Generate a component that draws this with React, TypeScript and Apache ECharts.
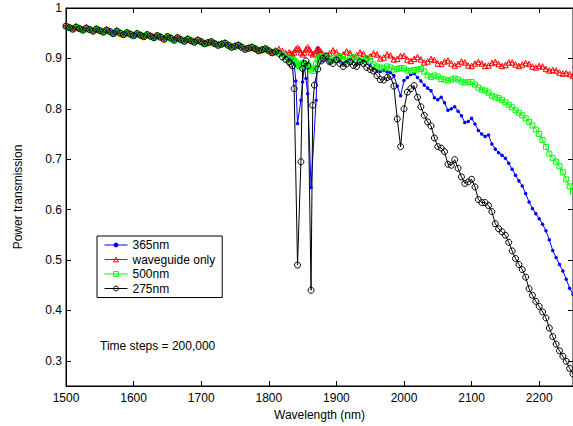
import { useEffect, useRef } from "react";
import * as echarts from "echarts";

// Wavelength sampling (nm) — denser around the resonance dips
const WAVELENGTH_NM = [
  1500, 1505, 1510, 1515, 1520, 1525, 1530, 1535, 1540, 1545,
  1550, 1555, 1560, 1565, 1570, 1575, 1580, 1585, 1590, 1595,
  1600, 1605, 1610, 1615, 1620, 1625, 1630, 1635, 1640, 1645,
  1650, 1655, 1660, 1665, 1670, 1675, 1680, 1685, 1690, 1695,
  1700, 1705, 1710, 1715, 1720, 1725, 1730, 1735, 1740, 1745,
  1750, 1755, 1760, 1765, 1770, 1775, 1780, 1785, 1790, 1795,
  1800, 1805, 1810, 1815, 1820, 1825, 1830,
  1832.5, 1835, 1837.5, 1840, 1842.5, 1845, 1847.5, 1850, 1852.5, 1855,
  1857.5, 1860, 1862.5, 1865, 1867.5, 1870, 1872.5, 1875, 1877.5,
  1880, 1885, 1890, 1895, 1900, 1905, 1910, 1915, 1920, 1925,
  1930, 1935, 1940, 1945, 1950, 1955, 1960, 1965, 1970, 1975,
  1980, 1985, 1990, 1995, 2000, 2005, 2010, 2015, 2020, 2025,
  2030, 2035, 2040, 2045, 2050, 2055, 2060, 2065, 2070, 2075,
  2080, 2085, 2090, 2095, 2100, 2105, 2110, 2115, 2120, 2125,
  2130, 2135, 2140, 2145, 2150, 2155, 2160, 2165, 2170, 2175,
  2180, 2185, 2190, 2195, 2200, 2205, 2210, 2215, 2220, 2225,
  2230, 2235, 2240, 2245, 2250,
];

const T365NM = [
  .964, .961, .958, .962, .959, .956, .960, .957, .954, .958,
  .955, .952, .956, .953, .949, .954, .950, .947, .951, .948,
  .945, .949, .946, .943, .947, .944, .941, .945, .942, .938,
  .943, .940, .936, .941, .937, .934, .938, .935, .932, .936,
  .933, .929, .931, .933, .929, .926, .928, .930, .926, .922,
  .924, .926, .922, .918, .920, .922, .919, .915, .917, .919,
  .915, .911, .913, .913, .908, .903, .898,
  .900, .901, .890, .855, .771, null, .817, .853, .885, .860,
  .830, null, .644, null, null, .817, .921, .905, .895,
  .900, .897, .892, .897, .900, .895, .890, .894, .898, .895,
  .889, .892, .896, .893, .886, .880, .876, .874, .876, .873,
  .872, .866, .845, .826, .856, .862, .868, .870, .862, .855,
  .847, .841, .836, .822, .818, .823, .812, .797, .800, .804,
  .795, .786, .773, .775, .781, .770, .757, .750, .745, .748,
  .730, .720, .713, .708, .702, .692, .680, .668, .657, .647,
  .632, .615, .602, .592, .582, .571, .558, .540, .519, .505,
  .491, .478, .462, .444, .432,
];

const T_WAVEGUIDE = [
  .966, .963, .960, .964, .961, .958, .962, .959, .956, .960,
  .957, .954, .958, .955, .951, .956, .952, .949, .953, .950,
  .947, .951, .948, .945, .949, .946, .943, .947, .944, .940,
  .945, .942, .938, .943, .939, .936, .940, .937, .934, .938,
  .935, .931, .933, .935, .931, .928, .930, .932, .928, .924,
  .926, .928, .924, .920, .922, .924, .921, .917, .919, .921,
  .917, .913, .916, .919, .915, .911, .912,
  .910, .908, .912, .918, .921, .918, .912, .908, .912, .918,
  .922, .918, .912, .908, .910, .915, .919, .917, .912,
  .908, .905, .910, .916, .912, .905, .908, .914, .911, .903,
  .906, .912, .909, .901, .904, .910, .908, .900, .902, .908,
  .906, .898, .899, .905, .905, .898, .895, .899, .903, .898,
  .892, .894, .899, .897, .890, .889, .894, .896, .890, .886,
  .889, .894, .892, .886, .885, .890, .893, .890, .885, .886,
  .891, .893, .889, .885, .887, .892, .892, .888, .885, .888,
  .891, .889, .884, .882, .885, .884, .879, .876, .877, .876,
  .872, .870, .871, .869, .866,
];

const T500NM = [
  .964, .961, .958, .962, .959, .956, .960, .957, .954, .958,
  .955, .952, .956, .953, .949, .954, .950, .947, .951, .948,
  .945, .949, .946, .943, .947, .944, .941, .945, .942, .938,
  .943, .940, .936, .941, .937, .934, .938, .935, .932, .936,
  .933, .929, .931, .933, .929, .926, .928, .930, .926, .922,
  .924, .926, .922, .918, .920, .922, .919, .915, .917, .919,
  .915, .911, .913, .913, .908, .902, .898,
  .897, .898, .895, .892, .888, .885, .887, .890, .888, .886,
  .888, .884, .878, .875, .880, .890, .898, .902, .904,
  .905, .902, .898, .896, .900, .903, .899, .895, .898, .902,
  .898, .894, .897, .900, .895, .888, .884, .882, .880, .884,
  .882, .878, .879, .881, .880, .876, .875, .877, .878, .879,
  .874, .866, .863, .866, .864, .859, .858, .856, .858, .860,
  .858, .854, .852, .853, .853, .848, .842, .838, .836, .832,
  .826, .823, .821, .818, .813, .808, .803, .797, .792, .787,
  .781, .774, .767, .759, .750, .738, .724, .711, .702, .695,
  .686, .674, .660, .646, .636,
];

const T275NM = [
  .964, .961, .958, .962, .959, .956, .960, .957, .954, .958,
  .955, .952, .956, .953, .949, .954, .950, .947, .951, .948,
  .945, .949, .946, .943, .947, .944, .941, .945, .942, .938,
  .943, .940, .936, .941, .937, .934, .938, .935, .932, .936,
  .933, .929, .931, .933, .929, .926, .928, .930, .926, .922,
  .924, .926, .922, .918, .920, .922, .919, .915, .917, .919,
  .915, .911, .913, .910, .903, .898, .893,
  .889, .885, .840, null, .490, null, .695, .880, .890, .895,
  .885, null, .440, .807, .847, null, .879, null, .895,
  .900, .905, .893, .890, .897, .890, .884, .889, .893, .886,
  .884, .893, .890, .882, .878, .875, .866, .858, .857, .862,
  .864, .845, .780, .725, .800, .833, .840, .846, .823, .804,
  .787, .774, .766, .742, .725, .722, .715, .690, .688, .699,
  .682, .665, .652, .655, .660, .645, .620, .614, .614, .608,
  .596, .572, .562, .556, .549, .535, .518, .503, .491, .481,
  .466, .443, .430, .418, .408, .397, .385, .365, .348, .333,
  .320, .309, .299, .285, .274,
];

const SERIES_NAMES = ["365nm", "waveguide only", "500nm", "275nm"];
const ANNOTATION = "Time steps = 200,000";
const X_TITLE = "Wavelength (nm)";
const Y_TITLE = "Power transmission";

const FONT = "'Liberation Sans', Arial, Helvetica, sans-serif";

function pairs(vals: (number | null)[]) {
  return WAVELENGTH_NM.map((w, i) => [w, vals[i]]).filter(
    (p) => p[1] !== null && p[1] !== undefined
  );
}

export default function App() {
  const ref = useRef<HTMLDivElement>(null);

  useEffect(() => {
    document.body.style.margin = "0";
    const chart = echarts.init(ref.current!, null, { renderer: "svg" });

    const mk = (
      name: string,
      vals: (number | null)[],
      color: string,
      symbol: string,
      size: number,
      filled: boolean
    ) => ({
      name,
      type: "line",
      data: pairs(vals),
      symbol,
      symbolSize: size,
      showSymbol: true,
      clip: false,
      lineStyle: { color, width: 1 },
      itemStyle: filled
        ? { color }
        : { color: "transparent", borderColor: color, borderWidth: 1 },
      emphasis: { disabled: true },
      z: 2,
    });

    const axisText = { color: "#000", fontSize: 12, fontFamily: FONT };
    const plain = (v: number) => String(Math.round(v * 1000) / 1000);

    chart.setOption({
      animation: false,
      backgroundColor: "#fff",
      grid: {
        left: 66,
        top: 8,
        width: 508,
        height: 384,
        show: true,
        borderColor: "#000",
        borderWidth: 1,
        backgroundColor: "transparent",
      },
      xAxis: [
        {
          type: "value",
          position: "bottom",
          min: 1500,
          max: 2250,
          interval: 100,
          axisLine: { show: true, lineStyle: { color: "#000", width: 1 } },
          axisTick: { show: true, inside: true, length: 5, lineStyle: { color: "#000" } },
          axisLabel: { ...axisText, margin: 6, showMaxLabel: false, formatter: plain },
          splitLine: { show: false },
          name: X_TITLE,
          nameLocation: "middle",
          nameGap: 23,
          nameTextStyle: { ...axisText },
        },
        {
          type: "value",
          position: "top",
          min: 1500,
          max: 2250,
          interval: 100,
          axisLine: { show: true, lineStyle: { color: "#000", width: 1 } },
          axisTick: { show: true, inside: true, length: 5, lineStyle: { color: "#000" } },
          axisLabel: { show: false },
          splitLine: { show: false },
        },
      ],
      yAxis: [
        {
          type: "value",
          position: "left",
          min: 0.25,
          max: 1,
          splitNumber: 7,
          axisLine: { show: true, lineStyle: { color: "#000", width: 1 } },
          axisTick: { show: true, inside: true, length: 5, lineStyle: { color: "#000" } },
          axisLabel: { ...axisText, margin: 4, showMinLabel: false, formatter: plain },
          splitLine: { show: false },
          name: Y_TITLE,
          nameLocation: "middle",
          nameGap: 42,
          nameRotate: 90,
          nameTextStyle: { ...axisText },
        },
        {
          type: "value",
          position: "right",
          min: 0.25,
          max: 1,
          splitNumber: 7,
          axisLine: { show: true, lineStyle: { color: "#000", width: 1 } },
          axisTick: { show: true, inside: true, length: 5, lineStyle: { color: "#000" } },
          axisLabel: { show: false },
          splitLine: { show: false },
        },
      ],
      legend: {
        orient: "vertical",
        left: 97,
        top: 236,
        data: SERIES_NAMES,
        selectedMode: false,
        itemWidth: 23,
        itemHeight: 6,
        itemGap: 2.5,
        padding: [3, 7, 3, 7],
        borderColor: "#000",
        borderWidth: 1,
        borderRadius: 0,
        backgroundColor: "#fff",
        lineStyle: { width: 1 },
        itemStyle: { borderWidth: 1 },
        textStyle: { color: "#000", fontSize: 12, fontFamily: FONT, lineHeight: 12 },
      },
      graphic: [
        {
          type: "text",
          left: 100,
          top: 340,
          style: {
            text: ANNOTATION,
            fill: "#000",
            fontSize: 12,
            fontFamily: FONT,
          },
        },
      ],
      series: [
        mk(SERIES_NAMES[0], T365NM, "#0000ff", "circle", 3.5, true),
        mk(SERIES_NAMES[1], T_WAVEGUIDE, "#ff0000", "triangle", 5.5, false),
        mk(SERIES_NAMES[2], T500NM, "#00ff00", "rect", 5, false),
        mk(SERIES_NAMES[3], T275NM, "#000000", "circle", 6, false),
      ],
    });

    return () => chart.dispose();
  }, []);

  return <div ref={ref} style={{ width: 573, height: 426 }} />;
}
